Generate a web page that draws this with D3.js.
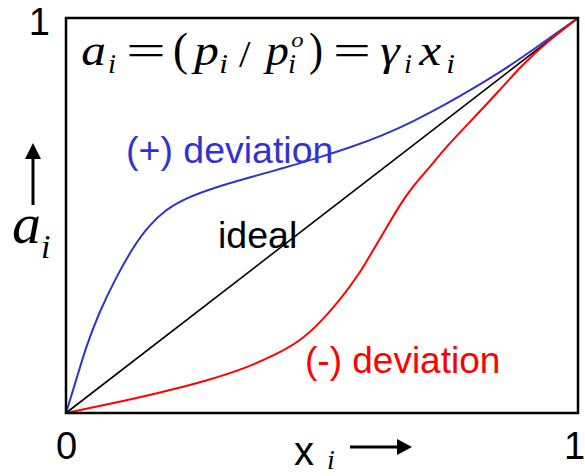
<!DOCTYPE html>
<html>
<head>
<meta charset="utf-8">
<script src="https://cdn.jsdelivr.net/npm/d3@7"></script>
<style>
  body { margin: 0; background: #fff; }
  svg { display: block; }
  .sans { font-family: "Liberation Sans", Arial, sans-serif; }
  .serif { font-family: "Liberation Serif", "Times New Roman", serif; }
</style>
</head>
<body>
<script>
// activity curves (x = mole fraction, a = activity)
var idealX = [0, 1];
var idealA = [0, 1];

var plusX = [0, 0.020, 0.039, 0.064, 0.098, 0.131, 0.162, 0.195, 0.234, 0.293, 0.361, 0.424, 0.490, 0.555, 0.619, 0.678, 0.740, 0.800, 0.860, 0.906, 1];
var plusA = [0, 0.084, 0.167, 0.253, 0.344, 0.420, 0.475, 0.515, 0.544, 0.572, 0.597, 0.620, 0.645, 0.672, 0.703, 0.738, 0.780, 0.825, 0.873, 0.914, 1];

var minusX = [0, 0.086, 0.184, 0.281, 0.346, 0.412, 0.457, 0.496, 0.535, 0.574, 0.600, 0.627, 0.652, 0.678, 0.711, 0.744, 0.789, 0.842, 0.893, 0.939, 1];
var minusA = [0, 0.023, 0.051, 0.084, 0.111, 0.149, 0.182, 0.228, 0.286, 0.354, 0.413, 0.471, 0.527, 0.575, 0.623, 0.676, 0.737, 0.810, 0.884, 0.939, 1];

var xTicks = [0, 1];
var yTicks = [1];

var width = 585, height = 476;
var margin = {top: 18, right: 7, bottom: 63, left: 66};

var blue = "#3333cc", red = "#ff0000";

var svg = d3.select("body").append("svg")
    .attr("width", width)
    .attr("height", height);

var x = d3.scaleLinear().domain([0, 1]).range([margin.left, width - margin.right]);
var y = d3.scaleLinear().domain([0, 1]).range([height - margin.bottom, margin.top]);

function zip(xs, ys) {
  return xs.map(function(v, i) { return [v, ys[i]]; });
}

// labels inside the box (drawn first so lines pass over them)
svg.append("text").attr("class", "sans")
    .attr("x", 126).attr("y", 163)
    .attr("font-size", 37.5).attr("fill", blue)
    .text("(+) deviation");
svg.append("text").attr("class", "sans")
    .attr("x", 218).attr("y", 248)
    .attr("font-size", 37.5).attr("fill", "#000")
    .text("ideal");
svg.append("text").attr("class", "sans")
    .attr("x", 305).attr("y", 373)
    .attr("font-size", 37).attr("fill", red)
    .text("(-) deviation");

var line = d3.line()
    .x(function(d) { return x(d[0]); })
    .y(function(d) { return y(d[1]); })
    .curve(d3.curveBasis);

svg.append("path")
    .datum(zip(idealX, idealA))
    .attr("d", line)
    .attr("fill", "none").attr("stroke", "#000").attr("stroke-width", 1.6);

svg.append("path")
    .datum(zip(plusX, plusA))
    .attr("d", line)
    .attr("fill", "none").attr("stroke", blue).attr("stroke-width", 2);

svg.append("path")
    .datum(zip(minusX, minusA))
    .attr("d", line)
    .attr("fill", "none").attr("stroke", red).attr("stroke-width", 2);

// frame
svg.append("rect")
    .attr("x", x(0)).attr("y", y(1))
    .attr("width", x(1) - x(0)).attr("height", y(0) - y(1))
    .attr("fill", "none").attr("stroke", "#000").attr("stroke-width", 2.5);

// axes: only the 0 / 1 labels, no ticks
var xAxis = svg.append("g")
    .attr("transform", "translate(0," + y(0) + ")")
    .call(d3.axisBottom(x).tickValues(xTicks).tickSize(0).tickPadding(19).tickFormat(d3.format("d")));
var yAxis = svg.append("g")
    .attr("transform", "translate(" + x(0) + ",0)")
    .call(d3.axisLeft(y).tickValues(yTicks).tickSize(0).tickPadding(16).tickFormat(d3.format("d")));
[xAxis, yAxis].forEach(function(g) {
  g.select(".domain").remove();
  g.selectAll("text")
      .attr("font-family", "Liberation Sans, Arial, sans-serif")
      .attr("font-size", 38).attr("fill", "#000");
});
yAxis.selectAll("text").attr("dy", "0.44em");
xAxis.selectAll("text").filter(function(d) { return d === 1; }).attr("dx", -4);

// x axis title: x_i ->
svg.append("text").attr("class", "sans")
    .attr("x", 294).attr("y", 465).attr("font-size", 40).text("x");
svg.append("text").attr("class", "serif")
    .attr("x", 327).attr("y", 469).attr("font-size", 28).attr("font-style", "italic").text("i");
svg.append("line")
    .attr("x1", 350).attr("x2", 400).attr("y1", 447).attr("y2", 447)
    .attr("stroke", "#000").attr("stroke-width", 3);
svg.append("path")
    .attr("d", "M397,439L412,447L397,455Z").attr("fill", "#000");

// y axis title: up arrow, a_i
svg.append("line")
    .attr("x1", 33).attr("x2", 33).attr("y1", 157).attr("y2", 205)
    .attr("stroke", "#000").attr("stroke-width", 3);
svg.append("path")
    .attr("d", "M33,143L41,159L25,159Z").attr("fill", "#000");
svg.append("text").attr("class", "serif")
    .attr("x", 12).attr("y", 243).attr("font-size", 58).attr("font-style", "italic").text("a");
svg.append("text").attr("class", "serif")
    .attr("x", 41).attr("y", 258).attr("font-size", 34).attr("font-style", "italic").text("i");

// formula a_i = (p_i / p_i^o) = gamma_i x_i, glyph by glyph
// each glyph sits in a slot [x, x+w]; widened a little, "=" stretched freely
var formula = [
  {t: "a", x: 79, w: 29, y: 65, s: 44, it: true},
  {t: "i", x: 108, w: 8, y: 73, s: 28, it: true},
  {t: "=", x: 126, w: 40, y: 65, s: 44, it: false, free: true},
  {t: "(", x: 173, w: 15, y: 65, s: 46, it: false},
  {t: "p", x: 191, w: 28, y: 65, s: 44, it: true},
  {t: "i", x: 219, w: 9, y: 73, s: 28, it: true},
  {t: "/", x: 239, w: 12, y: 67, s: 38, it: false},
  {t: "p", x: 263, w: 26, y: 65, s: 44, it: true},
  {t: "i", x: 288, w: 8, y: 73, s: 28, it: true},
  {t: "o", x: 291, w: 13, y: 47, s: 22, it: true},
  {t: ")", x: 309, w: 14, y: 65, s: 46, it: false},
  {t: "=", x: 333, w: 38, y: 65, s: 44, it: false, free: true},
  {t: "\u03b3", x: 378, w: 26, y: 65, s: 44, it: true},
  {t: "i", x: 404, w: 8, y: 73, s: 28, it: true},
  {t: "x", x: 416, w: 28, y: 65, s: 44, it: true},
  {t: "i", x: 446, w: 9, y: 73, s: 28, it: true}
];
var fg = svg.append("g");
formula.forEach(function(f) {
  var t = fg.append("text").attr("class", "serif")
      .attr("font-size", f.s)
      .attr("font-style", f.it ? "italic" : "normal")
      .attr("fill", "#000")
      .text(f.t);
  var bb = t.node().getBBox();
  var sx = bb.width > 0 ? f.w / bb.width : 1;
  if (!f.free) sx = Math.min(sx, 1.12);
  var left = f.x + (f.w - bb.width * sx) / 2 - bb.x * sx;
  t.attr("transform", "translate(" + left + "," + f.y + ") scale(" + sx + ",1)");
});
</script>
</body>
</html>
